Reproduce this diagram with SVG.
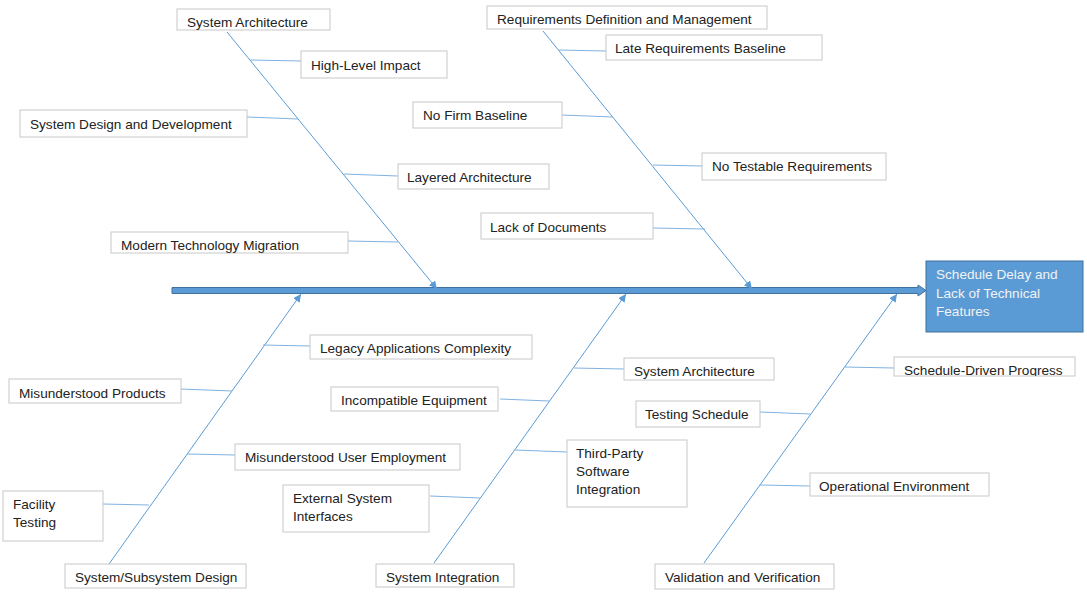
<svg xmlns="http://www.w3.org/2000/svg" width="1087" height="599" viewBox="0 0 1087 599">
<defs>
<style>
.box{fill:#fff;stroke:#c8c8c8;stroke-width:1}
.t{font-family:"Liberation Sans",Arial,sans-serif;font-size:13.6px;fill:#222}
.tw{font-family:"Liberation Sans",Arial,sans-serif;font-size:13.6px;fill:#f2f2f2}
.bone{stroke:#5b9bd5;stroke-width:1;fill:none}
.br{stroke:#7fb2e0;stroke-width:1;fill:none}
</style>
<marker id="ah" markerUnits="userSpaceOnUse" markerWidth="10" markerHeight="10" refX="8" refY="4" orient="auto">
<path d="M0,0 L8,4 L0,8 Z" fill="#5b9bd5"/>
</marker>
<clipPath id="clipSDP"><rect x="894" y="357" width="181" height="19"/></clipPath>
</defs>
<rect width="1087" height="599" fill="#fff"/>

<g id="connectors">
<path d="M172,287.5 H918 V285 L926,290.5 L918,296 V293.5 H172 Z" fill="#5b9bd5" stroke="#41719c" stroke-width="1"/>
<line class="bone" x1="227" y1="32" x2="437" y2="289" marker-end="url(#ah)"/>
<line class="bone" x1="543" y1="31" x2="752" y2="289" marker-end="url(#ah)"/>
<line class="bone" x1="109" y1="564" x2="301" y2="294" marker-end="url(#ah)"/>
<line class="bone" x1="434" y1="563" x2="626" y2="294" marker-end="url(#ah)"/>
<line class="bone" x1="704" y1="563" x2="897" y2="294" marker-end="url(#ah)"/>
<line class="br" x1="250" y1="60" x2="301" y2="61"/>
<line class="br" x1="247" y1="117" x2="298" y2="119"/>
<line class="br" x1="344" y1="174" x2="398" y2="176"/>
<line class="br" x1="348" y1="241" x2="398" y2="242"/>
<line class="br" x1="559" y1="50" x2="606" y2="51"/>
<line class="br" x1="562" y1="115" x2="613" y2="117"/>
<line class="br" x1="653" y1="165" x2="702" y2="166"/>
<line class="br" x1="653" y1="228" x2="705" y2="229"/>
<line class="br" x1="263" y1="345" x2="310" y2="346"/>
<line class="br" x1="181" y1="389" x2="232" y2="391"/>
<line class="br" x1="187" y1="454" x2="235" y2="455"/>
<line class="br" x1="103" y1="504" x2="149" y2="505"/>
<line class="br" x1="574" y1="368" x2="624" y2="369"/>
<line class="br" x1="500" y1="399" x2="549" y2="401"/>
<line class="br" x1="515" y1="450" x2="567" y2="452"/>
<line class="br" x1="430" y1="496" x2="480" y2="498"/>
<line class="br" x1="845" y1="367" x2="894" y2="368"/>
<line class="br" x1="760" y1="412" x2="810" y2="414"/>
<line class="br" x1="760" y1="485" x2="810" y2="486"/>
</g>

<g id="effect">
<rect x="926" y="261" width="157" height="71" fill="#5b9bd5" stroke="#41719c" stroke-width="1"/>
<text class="tw" x="936" y="279">Schedule Delay and</text>
<text class="tw" x="936" y="298">Lack of Technical</text>
<text class="tw" x="936" y="316">Features</text>
</g>

<g id="n-sysarch"><rect class="box" x="177" y="9" width="153" height="21"/><text class="t" x="187" y="27">System Architecture</text></g>
<g id="n-highlevel"><rect class="box" x="301" y="51" width="146" height="27"/><text class="t" x="311" y="70">High-Level Impact</text></g>
<g id="n-sysdesign"><rect class="box" x="20" y="110" width="227" height="27"/><text class="t" x="30" y="129">System Design and Development</text></g>
<g id="n-layered"><rect class="box" x="398" y="164" width="151" height="25"/><text class="t" x="407" y="182">Layered Architecture</text></g>
<g id="n-modern"><rect class="box" x="111" y="232" width="237" height="21"/><text class="t" x="121" y="250">Modern Technology Migration</text></g>

<g id="n-reqdef"><rect class="box" x="487" y="6" width="280" height="23"/><text class="t" x="497" y="24">Requirements Definition and Management</text></g>
<g id="n-latereq"><rect class="box" x="606" y="35" width="216" height="25"/><text class="t" x="615" y="53">Late Requirements Baseline</text></g>
<g id="n-nofirm"><rect class="box" x="413" y="102" width="149" height="26"/><text class="t" x="423" y="120">No Firm Baseline</text></g>
<g id="n-notestable"><rect class="box" x="702" y="153" width="184" height="27"/><text class="t" x="712" y="171">No Testable Requirements</text></g>
<g id="n-lackdocs"><rect class="box" x="481" y="213" width="172" height="26"/><text class="t" x="490" y="232">Lack of Documents</text></g>

<g id="n-legacy"><rect class="box" x="310" y="335" width="222" height="24"/><text class="t" x="320" y="353">Legacy Applications Complexity</text></g>
<g id="n-misprod"><rect class="box" x="9" y="379" width="172" height="24"/><text class="t" x="19" y="398">Misunderstood Products</text></g>
<g id="n-misuser"><rect class="box" x="235" y="444" width="225" height="26"/><text class="t" x="245" y="462">Misunderstood User Employment</text></g>
<g id="n-facility"><rect class="box" x="3" y="491" width="100" height="50"/><text class="t" x="13" y="509">Facility</text><text class="t" x="13" y="527">Testing</text></g>
<g id="n-subsys"><rect class="box" x="65" y="564" width="181" height="24"/><text class="t" x="75" y="582">System/Subsystem Design</text></g>

<g id="n-sysarch2"><rect class="box" x="624" y="358" width="150" height="22"/><text class="t" x="634" y="376">System Architecture</text></g>
<g id="n-incompat"><rect class="box" x="331" y="387" width="167" height="24"/><text class="t" x="341" y="405">Incompatible Equipment</text></g>
<g id="n-thirdparty"><rect class="box" x="567" y="440" width="120" height="67"/><text class="t" x="576" y="458">Third-Party</text><text class="t" x="576" y="476">Software</text><text class="t" x="576" y="494">Integration</text></g>
<g id="n-external"><rect class="box" x="283" y="485" width="146" height="47"/><text class="t" x="293" y="503">External System</text><text class="t" x="293" y="521">Interfaces</text></g>
<g id="n-sysint"><rect class="box" x="376" y="564" width="138" height="23"/><text class="t" x="386" y="582">System Integration</text></g>

<g id="n-schedprog"><rect class="box" x="894" y="357" width="181" height="19"/><text class="t" x="904" y="375" clip-path="url(#clipSDP)">Schedule-Driven Progress</text></g>
<g id="n-testsched"><rect class="box" x="636" y="401" width="124" height="26"/><text class="t" x="645" y="419">Testing Schedule</text></g>
<g id="n-openv"><rect class="box" x="810" y="473" width="179" height="23"/><text class="t" x="819" y="491">Operational Environment</text></g>
<g id="n-valver"><rect class="box" x="655" y="564" width="179" height="25"/><text class="t" x="665" y="582">Validation and Verification</text></g>
</svg>
